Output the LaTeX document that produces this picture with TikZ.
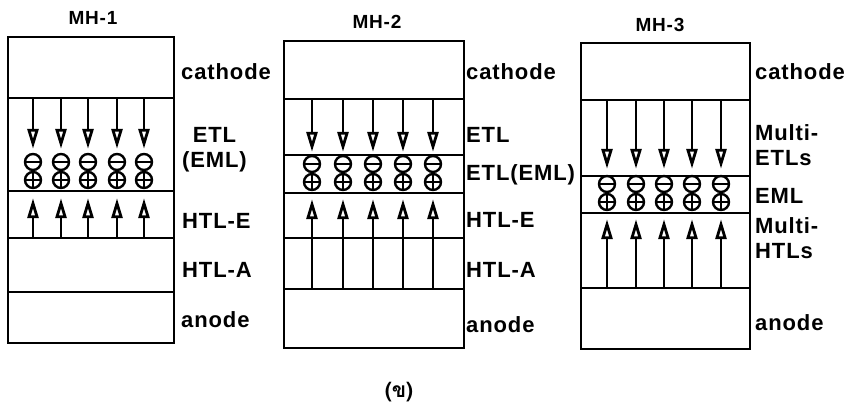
\documentclass[tikz,border=0pt]{standalone}
\usepackage{fontspec}
\setmainfont[LetterSpace=4]{Liberation Sans}
\newfontfamily\thaifont[Script=Thai]{Loma}
\usetikzlibrary{arrows.meta}

\begin{document}
\begin{tikzpicture}[x=1pt, y=-1pt,
  layer/.style={line width=2.4pt},
  lbl/.style={anchor=west, inner sep=0pt, align=left, font=\fontsize{22}{25}\bfseries},
  ttl/.style={inner sep=0pt, font=\fontsize{19}{19}\bfseries},
  carrier/.style={circle, draw, line width=2.4pt, minimum size=16pt, inner sep=0pt},
  elec/.style={carrier, path picture={\draw[line width=2.4pt] (path picture bounding box.west) -- (path picture bounding box.east);}},
  hole/.style={carrier, path picture={\draw[line width=2.4pt] (path picture bounding box.west) -- (path picture bounding box.east) (path picture bounding box.north) -- (path picture bounding box.south);}},
  flow/.style={line width=2.2pt, -{Triangle[open, length=20pt, width=11pt, line width=2.8pt]}}
]
\useasboundingbox (0,0) rectangle (849,412);

% MH-1
\node[ttl] (t1) at (93,18) {MH-1};
\draw[layer] (8,37) rectangle (174,343);
\foreach \y in {98,191,238,292} \draw[layer] (8,\y) -- (174,\y);
\foreach \x [count=\i] in {33,61,88,117,144} {
  \node[elec] (e1-\i) at (\x,162) {};
  \node[hole] (h1-\i) at (\x,180) {};
  \coordinate (c1-\i) at (\x,98);
  \coordinate (a1-\i) at (\x,238);
  \draw[flow, shorten >=4pt] (c1-\i) -- (e1-\i);
  \draw[flow, shorten >=9pt] (a1-\i) -- (h1-\i);
}
\node[lbl] (k1) at (181,72) {cathode};
\node[lbl, align=center] (l1) at (182,150) {ETL\\(EML)};
\node[lbl] (he1) at (182,221) {HTL-E};
\node[lbl] (ha1) at (182,270) {HTL-A};
\node[lbl] (an1) at (181,320) {anode};

% MH-2
\node[ttl] (t2) at (377,22) {MH-2};
\draw[layer] (284,41) rectangle (464,348);
\foreach \y in {99,155,193,238,289} \draw[layer] (284,\y) -- (464,\y);
\foreach \x [count=\i] in {312,343,373,403,433} {
  \node[elec] (e2-\i) at (\x,164) {};
  \node[hole] (h2-\i) at (\x,182) {};
  \coordinate (c2-\i) at (\x,99);
  \coordinate (a2-\i) at (\x,289);
  \draw[flow, shorten >=3pt] (c2-\i) -- (e2-\i);
  \draw[flow, shorten >=8pt] (a2-\i) -- (h2-\i);
}
\node[lbl] (k2) at (466,72) {cathode};
\node[lbl] (l2) at (466,135) {ETL};
\node[lbl] (m2) at (466,175) {ETL(EML)};
\node[lbl] (he2) at (466,220) {HTL-E};
\node[lbl] (ha2) at (466,270) {HTL-A};
\node[lbl] (an2) at (466,325) {anode};

% MH-3
\node[ttl] (t3) at (660,25) {MH-3};
\draw[layer] (581,43) rectangle (750,349);
\foreach \y in {100,176,213,288} \draw[layer] (581,\y) -- (750,\y);
\foreach \x [count=\i] in {607,636,664,692,721} {
  \node[elec] (e3-\i) at (\x,184) {};
  \node[hole] (h3-\i) at (\x,202) {};
  \coordinate (c3-\i) at (\x,100);
  \coordinate (a3-\i) at (\x,288);
  \draw[flow, shorten >=6pt] (c3-\i) -- (e3-\i);
  \draw[flow, shorten >=8pt] (a3-\i) -- (h3-\i);
}
\node[lbl] (k3) at (755,72) {cathode};
\node[lbl] (l3) at (755,145) {Multi-\\ETLs};
\node[lbl] (m3) at (755,196) {EML};
\node[lbl] (h3) at (755,238) {Multi-\\HTLs};
\node[lbl] (an3) at (755,323) {anode};

\node[font=\thaifont\fontsize{21}{21}\selectfont\bfseries] (cap) at (399,392) {(ข)};
\end{tikzpicture}
\end{document}
